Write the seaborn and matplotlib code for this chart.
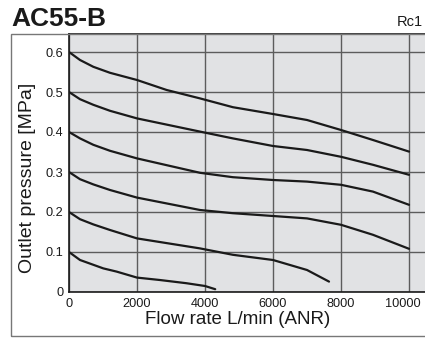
import numpy as np
import pandas as pd
import seaborn as sns
import matplotlib.pyplot as plt
import matplotlib.transforms as mtransforms
from matplotlib.patches import Rectangle

# Flow rate [L/min (ANR)] vs outlet pressure [MPa], one curve per set pressure
flow_06 = [0, 324, 715, 1206, 2000, 2873, 3853, 4820, 6000, 7000, 8000, 8940, 10000]
pres_06 = [0.600, 0.580, 0.563, 0.548, 0.530, 0.505, 0.484, 0.462, 0.445, 0.430, 0.405, 0.380, 0.351]

flow_05 = [0, 324, 715, 1206, 2000, 3853, 4820, 6000, 7000, 8000, 8940, 10000]
pres_05 = [0.500, 0.482, 0.468, 0.453, 0.434, 0.401, 0.384, 0.365, 0.355, 0.338, 0.318, 0.293]

flow_04 = [0, 324, 715, 1206, 2000, 3853, 4820, 6000, 7000, 8000, 8940, 10000]
pres_04 = [0.400, 0.384, 0.368, 0.353, 0.334, 0.298, 0.287, 0.280, 0.276, 0.268, 0.251, 0.218]

flow_03 = [0, 324, 715, 1206, 2000, 3853, 4820, 6000, 7000, 8000, 8940, 10000]
pres_03 = [0.300, 0.282, 0.269, 0.255, 0.236, 0.205, 0.197, 0.190, 0.184, 0.168, 0.143, 0.108]

flow_02 = [0, 324, 715, 1206, 2000, 3853, 4820, 6000, 7000, 7647]
pres_02 = [0.200, 0.182, 0.169, 0.155, 0.134, 0.109, 0.093, 0.080, 0.055, 0.026]

flow_01 = [0, 324, 1010, 1400, 2000, 2670, 3450, 4000, 4300]
pres_01 = [0.100, 0.080, 0.059, 0.051, 0.036, 0.030, 0.022, 0.015, 0.007]

x_ticks = [0, 2000, 4000, 6000, 8000, 10000]
y_ticks = [0, 0.1, 0.2, 0.3, 0.4, 0.5, 0.6]
y_tick_labels = ["0", "0.1", "0.2", "0.3", "0.4", "0.5", "0.6"]

curves = {
    "0.6": (flow_06, pres_06),
    "0.5": (flow_05, pres_05),
    "0.4": (flow_04, pres_04),
    "0.3": (flow_03, pres_03),
    "0.2": (flow_02, pres_02),
    "0.1": (flow_01, pres_01),
}
frames = [pd.DataFrame({"flow": f, "pressure": p, "set": name})
          for name, (f, p) in curves.items()]
df = pd.concat(frames, ignore_index=True)

sns.set_style("white")
plt.rcParams["font.family"] = ["Liberation Sans", "DejaVu Sans"]

fig = plt.figure(figsize=(4.25, 3.38), dpi=100)
ax = fig.add_axes([69 / 425, 1 - 292 / 338, 356 / 425, 258 / 338])
ax.set_facecolor("#e1e2e4")

sns.lineplot(data=df, x="flow", y="pressure", hue="set", units="set",
             estimator=None, palette=["#1a1a1a"] * 6, linewidth=1.6,
             legend=False, ax=ax, zorder=3,
             solid_joinstyle="round", solid_capstyle="round")

ax.set_xlim(0, 10470)
ax.set_ylim(0, 0.645)
ax.set_xticks(x_ticks)
ax.set_yticks(y_ticks)
ax.set_yticklabels(y_tick_labels)
ax.tick_params(length=0, labelsize=9.2, pad=4, colors="#1a1a1a")
ax.grid(True, color="#5c5c5c", linewidth=1.0)
ax.set_axisbelow(True)
for side in ["left", "bottom", "top"]:
    ax.spines[side].set_color("#1a1a1a")
    ax.spines[side].set_linewidth(1.2)
ax.spines["right"].set_visible(False)

# last x label is nudged left so it stays inside the figure
last = ax.get_xticklabels()[-1]
last.set_transform(last.get_transform()
                   + mtransforms.ScaledTranslation(-6 / 100, 0, fig.dpi_scale_trans))

ax.set_xlabel("Flow rate L/min (ANR)", fontsize=13.5, color="#1a1a1a")
ax.set_ylabel("Outlet pressure [MPa]", fontsize=14, color="#1a1a1a")
ax.xaxis.set_label_coords((238 - 69) / 356, -(320 - 292) / 258)
ax.yaxis.set_label_coords((28 - 69) / 356, (292 - 178) / 258)
ax.xaxis.label.set_va("center")
ax.yaxis.label.set_va("center")

# outer frame around the chart
fig.patches.append(Rectangle((11 / 425, 1 - 336 / 338), 1.0, (336 - 34) / 338,
                             transform=fig.transFigure, fill=False,
                             edgecolor="#777777", linewidth=1.0, zorder=0))

fig.text(11 / 425, 1 - 26 / 338, "AC55-B", fontsize=19, fontweight="bold",
         ha="left", va="baseline", color="#1a1a1a")
fig.text(397 / 425, 1 - 26.5 / 338, "Rc1", fontsize=10.5,
         ha="left", va="baseline", color="#1a1a1a")

fig.savefig("out.png", dpi=100)
